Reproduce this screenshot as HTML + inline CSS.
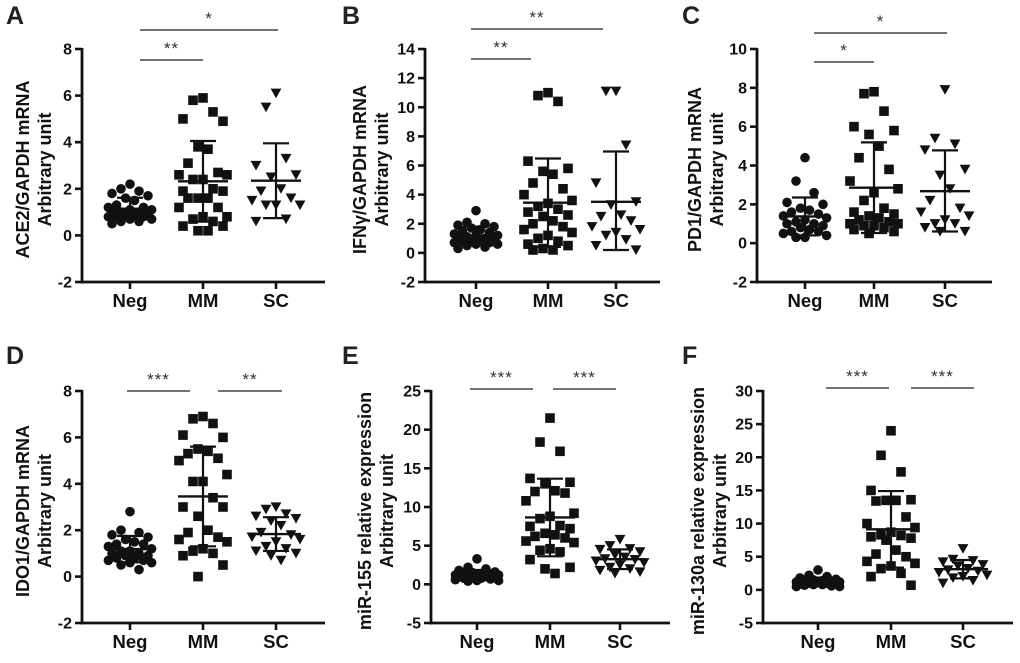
<!DOCTYPE html>
<html><head><meta charset="utf-8">
<style>
html,body{margin:0;padding:0;background:#fff;}
svg{display:block;font-family:"Liberation Sans",Arial,sans-serif;}
</style></head>
<body>
<svg id="fig" width="1020" height="663" viewBox="0 0 1020 663"></svg>
<script>
// ---- data ----
const categories = ["Neg","MM","SC"];
const aNeg=[2.2,1.9,2.0,1.7,1.8,1.6,1.5,1.3,1.2,1.1,1.1,1.0,1.0,0.9,0.9,0.9,0.8,0.8,0.8,0.7,0.7,0.6,0.6,0.5,1.2,1.0];
const aMM=[5.9,5.8,5.3,5.0,4.9,3.8,3.7,3.1,2.7,2.6,2.6,2.4,2.4,2.0,1.9,1.9,1.6,1.6,1.6,1.2,1.2,0.8,0.8,0.7,0.6,0.4,0.4,0.2,0.2];
const aSC=[6.1,5.5,3.3,3.0,2.5,2.6,2.0,1.9,1.6,1.5,1.3,1.3,1.3,0.7,0.6];
const bNeg=[2.9,2.1,2.0,1.9,1.8,1.6,1.5,1.4,1.3,1.2,1.1,1.0,1.0,0.9,0.9,0.8,0.8,0.7,0.7,0.6,0.6,0.5,0.4,0.3,1.7,1.2];
const bMM=[11.0,10.8,10.4,6.3,5.8,5.6,5.4,4.8,4.4,4.0,3.6,3.4,3.2,3.0,2.8,2.6,2.5,2.2,2.0,1.8,1.6,1.4,1.2,1.0,0.8,0.6,0.5,0.3,0.2,0.2];
const bSC=[11.1,11.1,7.4,4.8,3.5,3.3,2.6,2.2,1.8,1.6,1.4,1.2,0.9,0.5,0.2,2.5];
const cNeg=[4.4,3.2,2.6,2.1,2.0,1.8,1.6,1.5,1.4,1.2,1.1,1.0,0.9,0.8,0.7,0.6,0.6,0.5,0.4,0.3,0.3,1.3,1.7,1.0];
const cMM=[7.8,7.7,6.8,6.0,5.8,5.6,5.0,4.4,3.8,3.2,2.8,2.6,2.2,1.8,1.6,1.4,1.3,1.2,1.1,1.0,0.9,0.8,0.7,0.6,0.5,1.5,1.0,0.9];
const cSC=[7.9,5.4,5.1,4.8,3.8,3.5,2.8,2.2,1.8,1.6,1.4,1.2,1.0,0.8,0.6,0.6,1.0];
const dNeg=[2.8,2.0,1.9,1.8,1.7,1.6,1.5,1.4,1.3,1.2,1.1,1.0,1.0,0.9,0.9,0.8,0.8,0.7,0.7,0.6,0.6,0.5,0.3,1.1,1.4];
const dMM=[6.9,6.8,6.6,6.1,6.0,5.5,5.4,5.3,5.1,5.0,4.4,4.1,4.1,3.4,3.0,3.0,2.6,2.0,1.9,1.7,1.6,1.5,1.2,1.1,1.0,0.9,0.5,0.0];
const dSC=[3.0,2.9,2.7,2.6,2.5,2.4,2.2,1.9,1.8,1.7,1.6,1.5,1.3,1.2,1.1,1.0,0.9,0.7];
const eNeg=[3.3,2.2,2.0,1.8,1.6,1.5,1.4,1.3,1.2,1.2,1.1,1.0,1.0,0.9,0.9,0.8,0.8,0.7,0.6,0.5,0.5,0.4,1.4,1.1];
const eMM=[21.5,18.4,17.2,13.7,13.2,13.0,12.0,11.8,12.1,10.8,9.2,8.8,8.5,7.6,7.5,7.2,6.6,6.4,6.2,6.0,5.6,5.4,4.6,4.4,4.2,3.2,2.2,2.0,1.4];
const eSC=[5.8,5.0,4.6,4.5,4.2,3.8,3.5,3.2,3.0,2.8,2.5,2.2,2.0,1.8,1.6,1.4,3.3];
const fNeg=[3.0,2.2,2.0,1.8,1.6,1.5,1.4,1.3,1.2,1.1,1.0,1.0,0.9,0.9,0.8,0.8,0.7,0.6,0.5,0.5,1.4,1.2];
const fMM=[24.0,20.3,17.8,15.0,13.6,13.5,13.4,13.5,11.0,10.0,9.4,8.7,8.3,8.2,8.0,7.8,7.5,6.0,5.4,5.0,4.3,4.0,3.6,3.2,2.5,2.0,0.7];
const fSC=[6.2,4.6,4.4,4.2,3.8,3.6,3.2,3.0,2.8,2.6,2.2,2.0,1.8,1.4,1.0];
const ticksAD=[-2,0,2,4,6,8];
const ticksB=[-2,0,2,4,6,8,10,12,14];
const ticksC=[-2,0,2,4,6,8,10];
const ticksE=[-5,0,5,10,15,20,25];
const ticksF=[-5,0,5,10,15,20,25,30];

const panels=[
 {id:"a",letter:"A",title:["ACE2/GAPDH mRNA","Arbitrary unit"],groups:[aNeg,aMM,aSC],ticks:ticksAD,
  ax:82,end:325,top:49,bot:282,cx:[130,203,276],tx:[29,51],lx:6,ly:24,
  sig:[{x1:140,x2:278,y:30,t:"*"},{x1:140,x2:203,y:60,t:"**"}]},
 {id:"b",letter:"B",title:["IFN\u03b3/GAPDH mRNA","Arbitrary unit"],groups:[bNeg,bMM,bSC],ticks:ticksB,
  ax:425,end:660,top:49,bot:282,cx:[476,548,616],tx:[366,388],lx:342,ly:24,
  sig:[{x1:471,x2:603,y:29,t:"**"},{x1:471,x2:531,y:59,t:"**"}]},
 {id:"c",letter:"C",title:["PD1/GAPDH mRNA","Arbitrary unit"],groups:[cNeg,cMM,cSC],ticks:ticksC,
  ax:757,end:992,top:49,bot:282,cx:[805,874,945],tx:[701,723],lx:682,ly:24,
  sig:[{x1:814,x2:947,y:33,t:"*"},{x1:814,x2:874,y:62,t:"*"}]},
 {id:"d",letter:"D",title:["IDO1/GAPDH mRNA","Arbitrary unit"],groups:[dNeg,dMM,dSC],ticks:ticksAD,
  ax:82,end:325,top:391,bot:623,cx:[130,203,276],tx:[29,51],lx:6,ly:364,
  sig:[{x1:127,x2:190,y:391,t:"***"},{x1:218,x2:282,y:391,t:"**"}]},
 {id:"e",letter:"E",title:["miR-155 relative expression","Arbitrary unit"],groups:[eNeg,eMM,eSC],ticks:ticksE,
  ax:431,end:670,top:391,bot:623,cx:[477,550,620],tx:[371,393],lx:342,ly:364,
  sig:[{x1:470,x2:533,y:389,t:"***"},{x1:553,x2:616,y:389,t:"***"}]},
 {id:"f",letter:"F",title:["miR-130a relative expression","Arbitrary unit"],groups:[fNeg,fMM,fSC],ticks:ticksF,
  ax:763,end:1013,top:391,bot:623,cx:[818,891,963],tx:[704,726],lx:682,ly:364,
  sig:[{x1:826,x2:889,y:388,t:"***"},{x1:911,x2:974,y:388,t:"***"}]}
];

const NS="http://www.w3.org/2000/svg";
const svg=document.getElementById("fig");
function mk(tag,attrs,parent){const e=document.createElementNS(NS,tag);for(const k in attrs)e.setAttribute(k,attrs[k]);(parent||svg).appendChild(e);return e;}
const offs=[0,-10,10,-20,20,-5,5,-15,15,-24,24];

panels.forEach(p=>{
  const g=mk("g",{});
  
  
  const mn=p.ticks[0],mx=p.ticks[p.ticks.length-1];
  const y=v=>p.bot-(v-mn)/(mx-mn)*(p.bot-p.top);
  const L=mk("text",{x:p.lx,y:p.ly,"font-size":25,"font-weight":"bold",fill:"#222"},g);L.textContent=p.letter;
  
  
  const ya=mk("line",{x1:p.ax,x2:p.ax,y1:p.top-1,y2:p.bot+1.5,stroke:"#111","stroke-width":2.8},g);
  
  
  const xa=mk("line",{x1:p.ax-1.4,x2:p.end,y1:p.bot,y2:p.bot,stroke:"#111","stroke-width":2.8},g);
  
  
  p.ticks.forEach(t=>{
    mk("line",{x1:p.ax-7,x2:p.ax,y1:y(t),y2:y(t),stroke:"#111","stroke-width":2.6},g);
    const tl=mk("text",{x:p.ax-10,y:y(t)+5.5,"text-anchor":"end","font-size":16,"font-weight":"bold",fill:"#111"},g);
    tl.textContent=t;
    
    
  });
  p.title.forEach((s,i)=>{
    const cy=(p.top+p.bot)/2+4;
    const tt=mk("text",{x:p.tx[i],y:cy,transform:`rotate(-90 ${p.tx[i]} ${cy})`,"text-anchor":"middle","font-size":18,"font-weight":"bold",fill:"#111"},g);
    tt.textContent=s;
    
    
  });
  categories.forEach((c,i)=>{
    mk("line",{x1:p.cx[i],x2:p.cx[i],y1:p.bot,y2:p.bot+7,stroke:"#111","stroke-width":2.6},g);
    const cl=mk("text",{x:p.cx[i],y:p.bot+25,"text-anchor":"middle","font-size":18.5,"font-weight":"bold",fill:"#111"},g);
    cl.textContent=c;
    
    
  });
  p.groups.forEach((vals,gi)=>{
    const sorted=vals.slice().sort((a,b)=>b-a);
    sorted.forEach((v,k)=>{
      const px=p.cx[gi]+offs[k%offs.length]*(gi===0?0.9:1);
      const py=y(v);
      let m;
      if(gi===0) m=mk("circle",{cx:px,cy:py,r:4.8,fill:"#111"},g);
      else if(gi===1) m=mk("rect",{x:px-4.8,y:py-4.8,width:9.6,height:9.6,fill:"#111"},g);
      else m=mk("polygon",{points:`${px-5.4},${py-4.6} ${px+5.4},${py-4.6} ${px},${py+5}`,fill:"#111"},g);
      
      
    });
    const mean=vals.reduce((a,b)=>a+b,0)/vals.length;
    const sd=Math.sqrt(vals.reduce((a,b)=>a+(b-mean)*(b-mean),0)/(vals.length-1));
    const c=p.cx[gi];
    const lo=Math.max(mean-sd,Math.min(...vals));
    const mb=mk("line",{x1:c-25,x2:c+25,y1:y(mean),y2:y(mean),stroke:"#111","stroke-width":2.4},g);
    
    
    const eb=mk("path",{d:`M${c},${y(mean+sd)}V${y(lo)}M${c-13},${y(mean+sd)}H${c+13}M${c-13},${y(lo)}H${c+13}`,stroke:"#111","stroke-width":2.2,fill:"none"},g);
    
    
  });
  p.sig.forEach(s=>{
    const sl=mk("line",{x1:s.x1,x2:s.x2,y1:s.y,y2:s.y,stroke:"#444","stroke-width":1.4},g);
    
    
    const st=mk("text",{x:(s.x1+s.x2)/2,y:s.y-6,"text-anchor":"middle","font-size":17,fill:"#333","letter-spacing":"1"},g);
    st.textContent=s.t;
    
    
  });
});
</script>
</body></html>
